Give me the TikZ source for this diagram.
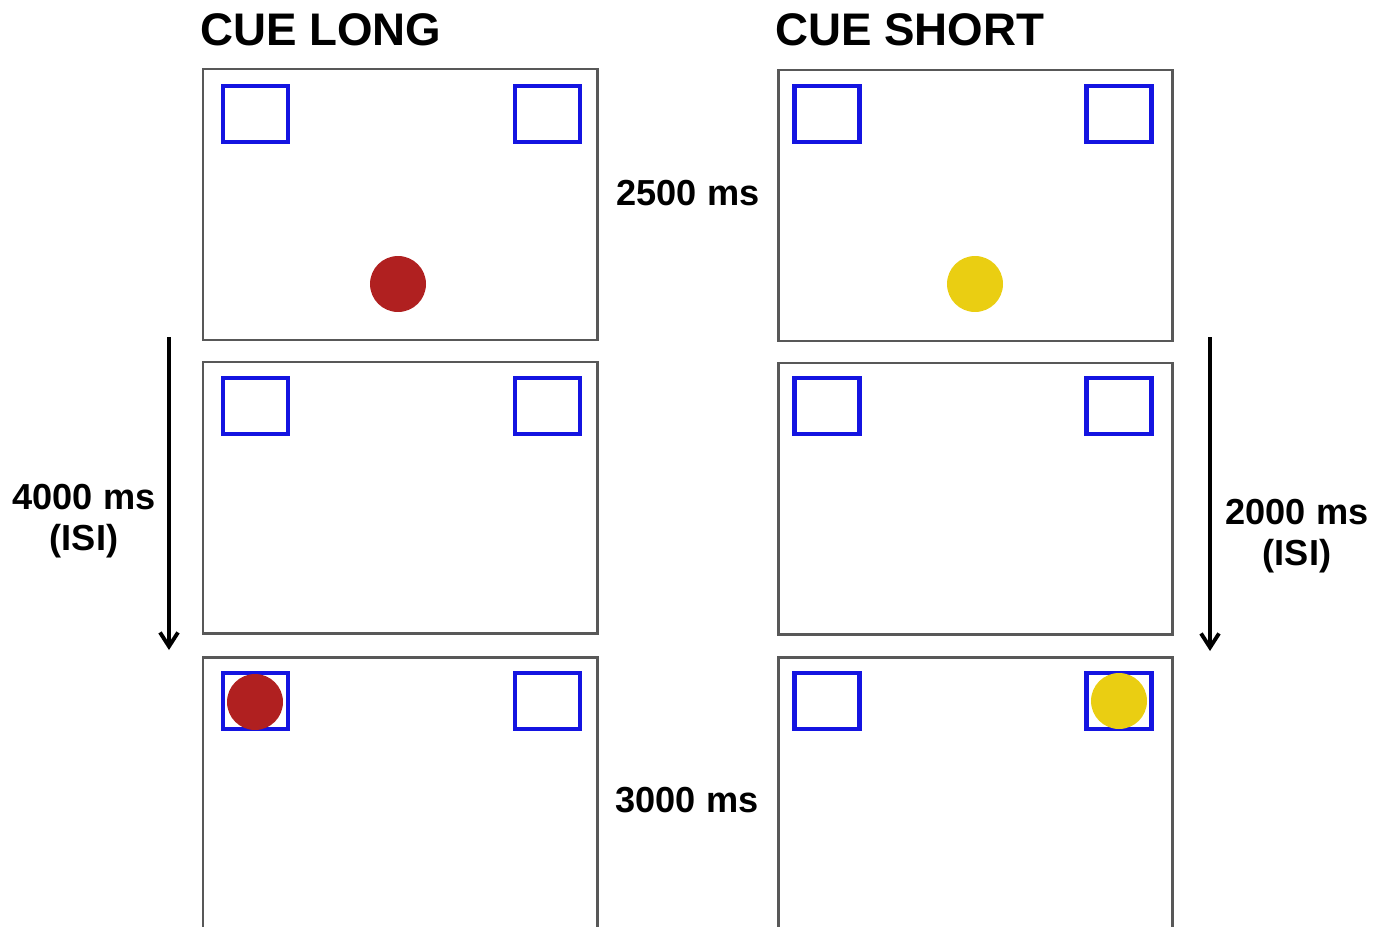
\documentclass[tikz,border=0pt]{standalone}
\usepackage{fontspec}
\setmainfont{Liberation Sans}
\usetikzlibrary{arrows.meta}
\definecolor{framegray}{RGB}{88,88,88}
\definecolor{boxblue}{RGB}{20,20,225}
\definecolor{cuered}{RGB}{176,32,32}
\definecolor{cueyellow}{RGB}{234,206,18}
\begin{document}
\begin{tikzpicture}[x=0.02cm, y=-0.02cm, >={Straight Barb[length=2.8mm,width=3.6mm]},
	every node/.style={font=\bfseries\fontsize{20.6}{23.5}\selectfont, inner sep=0pt},
	frame/.style={draw=framegray, line width=1.7pt},
	target/.style={draw=boxblue, line width=2.6pt, minimum width=1.3cm, minimum height=1.12cm},
	cue/.style={circle, minimum size=1.12cm}]
	\useasboundingbox (0,0) rectangle (1385,926);
	\clip (0,0) rectangle (1385,926);
	% titles
	\node[anchor=west, font=\bfseries\fontsize{26}{30}\selectfont] (longtitle) at (200,30) {CUE LONG};
	\node[anchor=west, font=\bfseries\fontsize{26}{30}\selectfont] (shorttitle) at (775,30) {CUE SHORT};
	% left column: cue long
	\draw[frame] (203,69) rectangle (597,340);
	\draw[frame] (203,362) rectangle (597,633);
	\draw[frame] (203,657) rectangle (597,960);
	\foreach \y/\n in {114/1, 406/2, 701/3} {
		\node[target] (L\n a) at (255.5,\y) {};
		\node[target] (L\n b) at (547.5,\y) {};
	}
	\node[cue, fill=cuered] (redcue) at (398,284) {};
	\node[cue, fill=cuered] (redtarget) at (255,702) {};
	% right column: cue short
	\draw[frame] (778,70) rectangle (1172,341);
	\draw[frame] (778,363) rectangle (1172,634);
	\draw[frame] (778,657) rectangle (1172,960);
	\foreach \y/\n in {114/1, 406/2, 701/3} {
		\node[target] (R\n a) at (827,\y) {};
		\node[target] (R\n b) at (1119,\y) {};
	}
	\node[cue, fill=cueyellow] (yellowcue) at (975,284) {};
	\node[cue, fill=cueyellow] (yellowtarget) at (1119,701) {};
	% durations
	\node (cuetime) at (688,193) {2500 ms};
	\node (targettime) at (687,800) {3000 ms};
	\coordinate (longtop) at (169,337);
	\coordinate (longend) at (169,650);
	\draw[->, line width=2.2pt] (longtop) -- (longend);
	\node[align=center] (longisi) at (84,521) {4000 ms\\(ISI)};
	\coordinate (shorttop) at (1210,337);
	\coordinate (shortend) at (1210,651);
	\draw[->, line width=2.2pt] (shorttop) -- (shortend);
	\node[align=center] (shortisi) at (1297,536) {2000 ms\\(ISI)};
\end{tikzpicture}
\end{document}
